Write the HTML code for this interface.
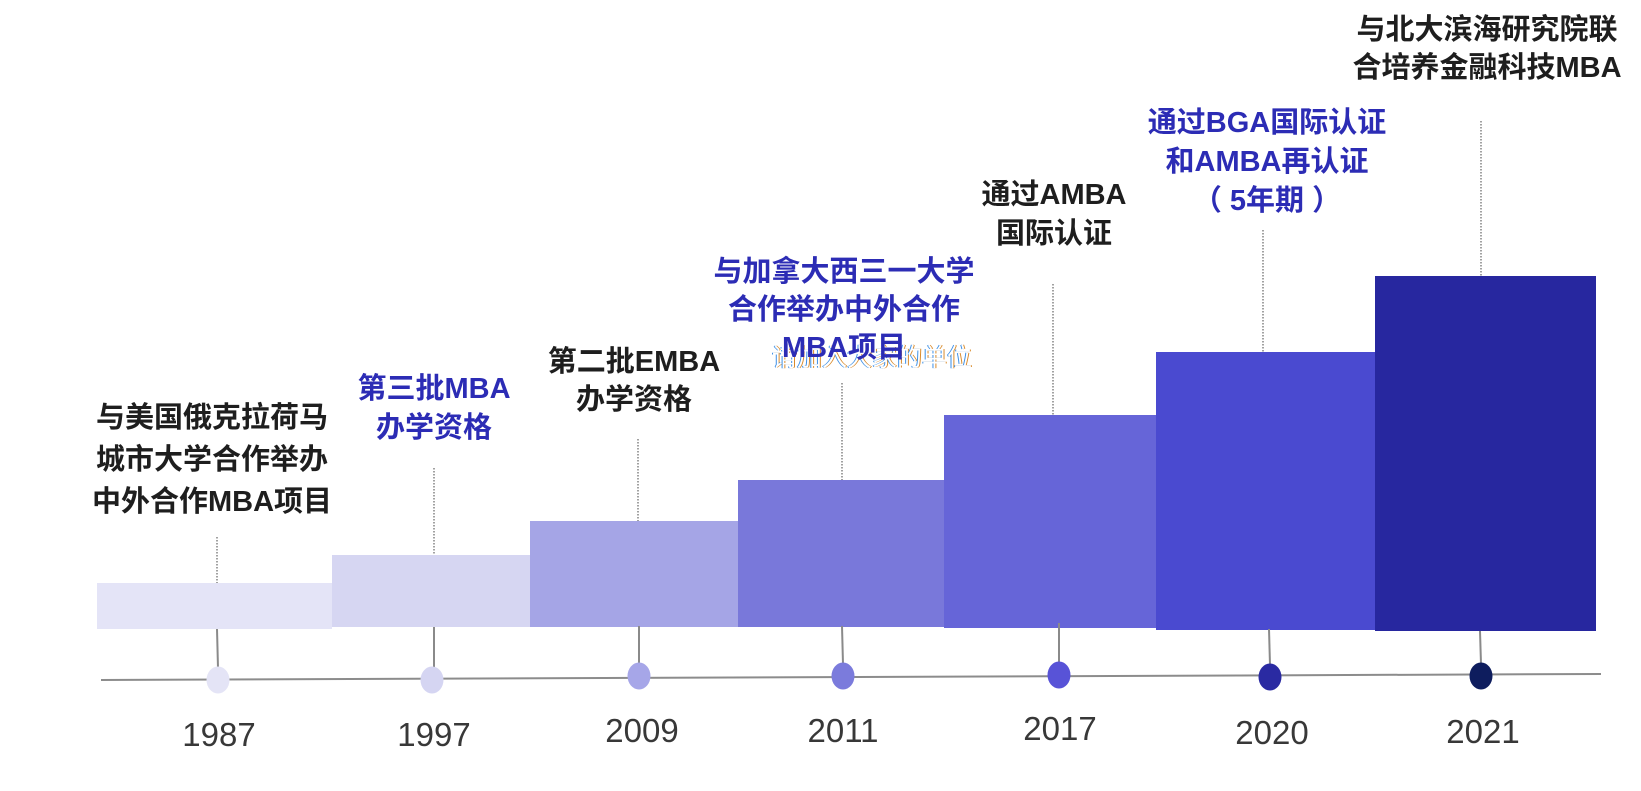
<!DOCTYPE html>
<html><head><meta charset="utf-8">
<style>
html,body{margin:0;padding:0;background:#fff;}
#c{position:relative;width:1641px;height:791px;overflow:hidden;background:#fff;}
svg{position:absolute;left:0;top:0;}
.t{position:absolute;width:420px;text-align:center;font-family:"Liberation Sans","Noto Sans CJK SC",sans-serif;font-weight:700;font-size:29px;line-height:40px;height:40px;white-space:nowrap;color:#1e1e1e;}
.b{color:#2c2cb5;}
.y{position:absolute;width:200px;text-align:center;font-family:"Liberation Sans","DejaVu Sans",sans-serif;font-size:33px;line-height:40px;height:40px;color:#383838;}
.g{position:absolute;width:260px;text-align:center;font-family:"Liberation Sans","Noto Sans CJK SC",sans-serif;font-size:25px;line-height:30px;color:#fff;text-shadow:-1px 0 0 #3a8ee6,1px 0 0 #d98a2a;white-space:nowrap;}
</style></head><body><div id="c">
<svg width="1641" height="791" viewBox="0 0 1641 791">
  <rect x="97" y="583" width="235" height="46" fill="#e4e4f7"/>
  <rect x="332" y="555" width="198" height="72" fill="#d6d6f2"/>
  <rect x="530" y="521" width="208" height="106" fill="#a5a5e6"/>
  <rect x="738" y="480" width="206" height="147" fill="#7978da"/>
  <rect x="944" y="415" width="212" height="213" fill="#6665d8"/>
  <rect x="1156" y="352" width="219" height="278" fill="#4a4ad0"/>
  <rect x="1375" y="276" width="221" height="355" fill="#27279f"/>
  <g stroke="#8a8a8a" stroke-width="1.6" stroke-dasharray="1.5,1.5" fill="none">
    <line x1="217" y1="537" x2="217" y2="583"/>
    <line x1="434" y1="468" x2="434" y2="555"/>
    <line x1="638" y1="439" x2="638" y2="521"/>
    <line x1="842" y1="383" x2="842" y2="480"/>
    <line x1="1053" y1="284" x2="1053" y2="415"/>
    <line x1="1263" y1="230" x2="1263" y2="352"/>
    <line x1="1481" y1="121" x2="1481" y2="276"/>
  </g>
  <line x1="101" y1="680" x2="1601" y2="674" stroke="#8c8c8c" stroke-width="2"/>
  <g stroke="#8a8a8a" stroke-width="2">
    <line x1="217" y1="629" x2="218" y2="668"/>
    <line x1="434" y1="627" x2="434" y2="668"/>
    <line x1="639" y1="626" x2="639" y2="664"/>
    <line x1="842" y1="626" x2="843" y2="664"/>
    <line x1="1059" y1="623" x2="1059" y2="663"/>
    <line x1="1269" y1="629" x2="1270" y2="665"/>
    <line x1="1480" y1="631" x2="1481" y2="664"/>
  </g>
  <ellipse cx="218" cy="680" rx="11.5" ry="13.5" fill="#e4e4f6"/>
  <ellipse cx="432" cy="680" rx="11.5" ry="13.5" fill="#d5d5f2"/>
  <ellipse cx="639" cy="676" rx="11.5" ry="13.5" fill="#a6a6e8"/>
  <ellipse cx="843" cy="676" rx="11.5" ry="13.5" fill="#7b7bdc"/>
  <ellipse cx="1059" cy="675" rx="11.5" ry="13.5" fill="#5853d7"/>
  <ellipse cx="1270" cy="677" rx="11.5" ry="13.5" fill="#2a2aa2"/>
  <ellipse cx="1481" cy="676" rx="11.5" ry="13.5" fill="#0e1d5e"/>
</svg>

<div class="y" style="left:119px;top:715px;">1987</div>
<div class="y" style="left:334px;top:715px;">1997</div>
<div class="y" style="left:542px;top:711px;">2009</div>
<div class="y" style="left:743px;top:711px;">2011</div>
<div class="y" style="left:960px;top:709px;">2017</div>
<div class="y" style="left:1172px;top:713px;">2020</div>
<div class="y" style="left:1383px;top:712px;">2021</div>

<div class="t" style="left:2px;top:398px;">与美国俄克拉荷马</div>
<div class="t" style="left:2px;top:440px;">城市大学合作举办</div>
<div class="t" style="left:2px;top:482px;">中外合作MBA项目</div>
<div class="t b" style="left:224px;top:369px;">第三批MBA</div>
<div class="t b" style="left:224px;top:408px;">办学资格</div>
<div class="t" style="left:424px;top:342px;">第二批EMBA</div>
<div class="t" style="left:424px;top:380px;">办学资格</div>
<div class="g" style="left:742px;top:343px;">请加入大家的单位</div>
<div class="t b" style="left:634px;top:252px;">与加拿大西三一大学</div>
<div class="t b" style="left:634px;top:290px;">合作举办中外合作</div>
<div class="t b" style="left:634px;top:328px;">MBA项目</div>
<div class="t" style="left:844px;top:175px;">通过AMBA</div>
<div class="t" style="left:844px;top:214px;">国际认证</div>
<div class="t b" style="left:1057px;top:103px;">通过BGA国际认证</div>
<div class="t b" style="left:1057px;top:142px;">和AMBA再认证</div>
<div class="t b" style="left:1057px;top:181px;">（ 5年期 ）</div>
<div class="t" style="left:1277px;top:10px;">与北大滨海研究院联</div>
<div class="t" style="left:1277px;top:48px;">合培养金融科技MBA</div>
</div></body></html>
